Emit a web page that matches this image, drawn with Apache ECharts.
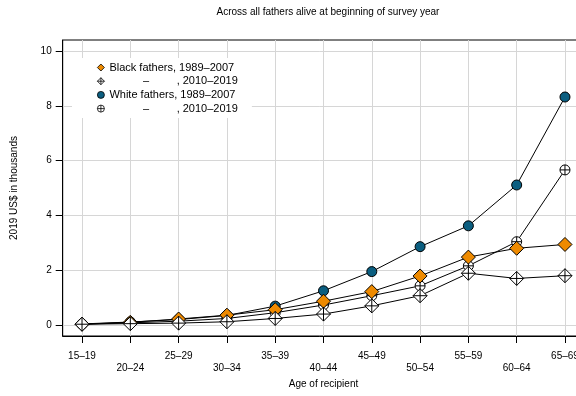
<!DOCTYPE html>
<html>
<head>
<meta charset="utf-8">
<script src="https://cdn.jsdelivr.net/npm/echarts@6/dist/echarts.min.js"></script>
<style>html,body{margin:0;padding:0;background:#fff}#c{width:576px;height:396px}</style>
</head>
<body>
<div id="c"></div>
<script>
const categories = ['15–19','20–24','25–29','30–34','35–39','40–44','45–49','50–54','55–59','60–64','65–69'];
const blackEarly = [0.03, 0.10, 0.22, 0.36, 0.56, 0.87, 1.22, 1.79, 2.48, 2.80, 2.94];
const blackLate  = [0.03, 0.05, 0.07, 0.12, 0.24, 0.40, 0.70, 1.07, 1.89, 1.70, 1.80];
const whiteEarly = [0.04, 0.11, 0.20, 0.35, 0.69, 1.25, 1.95, 2.86, 3.62, 5.11, 8.32];
const whiteLate  = [0.03, 0.08, 0.14, 0.24, 0.45, 0.73, 1.07, 1.43, 2.16, 3.04, 5.66];
const yTicks = [0, 2, 4, 6, 8, 10];
const seriesNames = ['Black fathers, 1989–2007', '           –         , 2010–2019', 'White fathers, 1989–2007', '           –         , 2010–2019 '];

const FONT = 'Liberation Sans, Arial, sans-serif';
const ORANGE = '#EE8A00';
const BLUE = '#0B5E80';
const diamondPlus = 'path://M0,-10L10,0L0,10L-10,0Z M0,-10L0,10 M-10,0L10,0';
const circlePlus = 'path://M-10,0A10,10,0,1,0,10,0A10,10,0,1,0,-10,0Z M0,-10L0,10 M-10,0L10,0';
const xIdx = categories.map((_, i) => i);
const pts = arr => arr.map((v, i) => [i, v]);

function mkSeries(name, data, symbol, size, fill) {
  return {
    name, type: 'line', data: pts(data), symbol, symbolSize: size, symbolKeepAspect: true,
    showAllSymbol: true,
    lineStyle: { color: '#000', width: 1 },
    itemStyle: { color: fill, borderColor: '#000', borderWidth: 1, opacity: 1 },
    emphasis: { disabled: true }, animation: false
  };
}
const legendStyle = fill => ({ color: fill, borderColor: '#000', borderWidth: 0.8 });

const chart = echarts.init(document.getElementById('c'), null, { renderer: 'canvas' });
chart.setOption({
  animation: false,
  backgroundColor: '#fff',
  textStyle: { fontFamily: FONT },
  title: {
    text: 'Across all fathers alive at beginning of survey year',
    left: 323, top: 2, textAlign: 'center',
    textStyle: { fontSize: 10, fontWeight: 'normal', color: '#000', fontFamily: FONT }
  },
  grid: { left: 62.7, top: 40, width: 521.6, height: 296, outerBoundsMode: 'none', containLabel: false,
          show: true, borderColor: '#000', borderWidth: 1, backgroundColor: 'transparent' },
  legend: {
    orient: 'vertical', left: 72, top: 58,
    padding: [3.5, 11, 3.5, 25],
    backgroundColor: '#fff',
    itemWidth: 7, itemHeight: 7, itemGap: 1.7,
    selectedMode: false,
    textStyle: { fontSize: 11, color: '#000', fontFamily: FONT, lineHeight: 12 },
    data: [
      { name: seriesNames[0], icon: 'diamond', itemStyle: legendStyle(ORANGE) },
      { name: seriesNames[1], icon: diamondPlus, itemStyle: legendStyle('#fff') },
      { name: seriesNames[2], icon: 'circle', itemStyle: legendStyle(BLUE) },
      { name: seriesNames[3], icon: circlePlus, itemStyle: legendStyle('#fff') }
    ]
  },
  xAxis: {
    type: 'value', min: -0.4, max: 10.4,
    name: 'Age of recipient', nameLocation: 'middle', nameGap: 41,
    nameTextStyle: { fontSize: 10, color: '#000', fontFamily: FONT },
    axisLine: { show: true, onZero: false, lineStyle: { color: '#000', width: 1 } },
    axisTick: { show: true, length: 7, customValues: xIdx, lineStyle: { color: '#000' } },
    axisLabel: {
      customValues: xIdx, color: '#000', fontSize: 10, fontFamily: FONT, margin: 14, lineHeight: 12,
      formatter: v => { const i = Math.round(v); return (i % 2 === 1 ? '\n' : '') + categories[i]; }
    },
    splitLine: { show: true, lineStyle: { color: '#d6d6d6', width: 1 } }
  },
  yAxis: {
    type: 'value', min: -0.4, max: 10.4,
    name: '2019 US$ in thousands', nameLocation: 'middle', nameGap: 43, nameRotate: 90,
    nameTextStyle: { fontSize: 10, color: '#000', fontFamily: FONT },
    axisLine: { show: true, onZero: false, lineStyle: { color: '#000', width: 1 } },
    axisTick: { show: true, length: 7, customValues: yTicks, lineStyle: { color: '#000' } },
    axisLabel: { customValues: yTicks, color: '#000', fontSize: 10, fontFamily: FONT, margin: 11 },
    splitLine: { show: true, lineStyle: { color: '#d6d6d6', width: 1 } }
  },
  series: [
    mkSeries(seriesNames[2], whiteEarly, 'circle', 10, BLUE),
    mkSeries(seriesNames[3], whiteLate, circlePlus, 10, '#fff'),
    mkSeries(seriesNames[0], blackEarly, 'diamond', 14, ORANGE),
    mkSeries(seriesNames[1], blackLate, diamondPlus, 14, '#fff')
  ]
});
</script>
</body>
</html>
